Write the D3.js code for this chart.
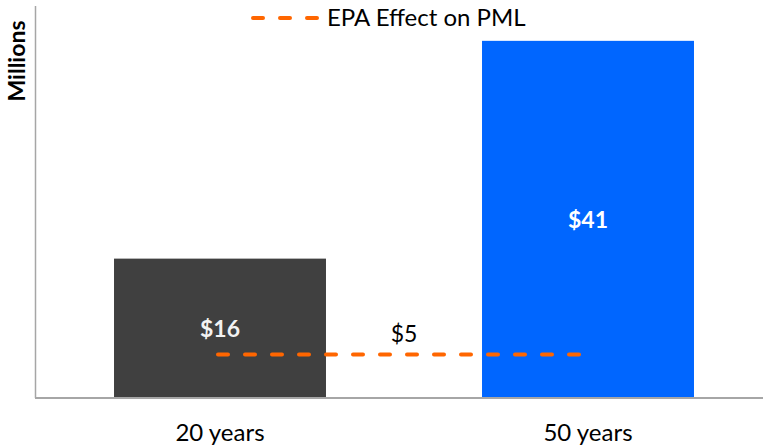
<!DOCTYPE html>
<html>
<head>
<meta charset="utf-8">
<script src="https://cdn.jsdelivr.net/npm/d3@7"></script>
<style>
  body { margin: 0; background: #fff; }
  text { font-family: Lato, "Open Sans", sans-serif; }
</style>
</head>
<body>
<div id="chart"></div>
<script>
// Datos del gráfico
const categories = ["20 years", "50 years"];
const pmlValues = [16, 41];
const barColors = ["#404040", "#0066FF"];
const epaEffect = 5;
const epaLabel = "$5";
const legendLabel = "EPA Effect on PML";
const yTitle = "Millions";

// Configuración
const W = 763, H = 446;
const svg = d3.select("#chart").append("svg")
    .attr("width", W)
    .attr("height", H);

const x = d3.scaleBand()
    .domain(categories)
    .range([36, 772])
    .paddingInner(0.424)
    .paddingOuter(0.212);

const y = d3.scaleLinear()
    .domain([0, 45])
    .range([398, 6]);

// Barras
svg.selectAll(".bar")
    .data(categories)
    .enter().append("rect")
    .attr("class", "bar")
    .attr("x", d => x(d))
    .attr("width", x.bandwidth())
    .attr("y", (d, i) => y(pmlValues[i]))
    .attr("height", (d, i) => y(0) - y(pmlValues[i]))
    .attr("fill", (d, i) => barColors[i]);

// Ejes (solo líneas)
svg.append("line")
    .attr("x1", 35.5).attr("x2", 35.5)
    .attr("y1", y(45)).attr("y2", y(0))
    .attr("stroke", "#a6a6a6").attr("stroke-width", 1.5);
svg.append("line")
    .attr("x1", 35).attr("x2", W)
    .attr("y1", y(0)).attr("y2", y(0))
    .attr("stroke", "#a6a6a6").attr("stroke-width", 2);

// Etiquetas de las barras
svg.selectAll(".bar-label")
    .data(categories)
    .enter().append("text")
    .attr("class", "bar-label")
    .attr("x", d => x(d) + x.bandwidth() / 2)
    .attr("y", (d, i) => (y(pmlValues[i]) + y(0)) / 2)
    .attr("dy", "0.36em")
    .attr("text-anchor", "middle")
    .attr("font-size", 23)
    .attr("font-weight", "bold")
    .attr("fill", (d, i) => i === 0 ? "#f2f2f2" : "#ffffff")
    .text((d, i) => `$${pmlValues[i]}`);

// Línea EPA (entre centros de categorías)
const cx = categories.map(d => x(d) + x.bandwidth() / 2);
svg.append("line")
    .attr("x1", cx[0] - 2).attr("x2", cx[1] - 6)
    .attr("y1", y(epaEffect)).attr("y2", y(epaEffect))
    .attr("stroke", "#FF6600")
    .attr("stroke-width", 4)
    .attr("stroke-linecap", "round")
    .attr("stroke-dasharray", "10,17");

svg.append("text")
    .attr("x", (cx[0] + cx[1]) / 2)
    .attr("y", y(epaEffect) - 12)
    .attr("text-anchor", "middle")
    .attr("font-size", 23)
    .attr("fill", "#000")
    .text(epaLabel);

// Etiquetas del eje X
svg.selectAll(".x-label")
    .data(categories)
    .enter().append("text")
    .attr("class", "x-label")
    .attr("x", d => x(d) + x.bandwidth() / 2)
    .attr("y", 441)
    .attr("text-anchor", "middle")
    .attr("font-size", 24)
    .attr("fill", "#000")
    .text(d => d);

// Título del eje Y
svg.append("text")
    .attr("transform", "translate(25,61) rotate(-90)")
    .attr("text-anchor", "middle")
    .attr("font-size", 23)
    .attr("font-weight", "bold")
    .attr("fill", "#000")
    .text(yTitle);

// Leyenda
svg.append("line")
    .attr("x1", 253).attr("x2", 318)
    .attr("y1", 18).attr("y2", 18)
    .attr("stroke", "#FF6600")
    .attr("stroke-width", 4)
    .attr("stroke-linecap", "round")
    .attr("stroke-dasharray", "10,17");
svg.append("text")
    .attr("x", 327)
    .attr("y", 26)
    .attr("font-size", 24)
    .attr("fill", "#000")
    .text(legendLabel);
</script>
</body>
</html>
